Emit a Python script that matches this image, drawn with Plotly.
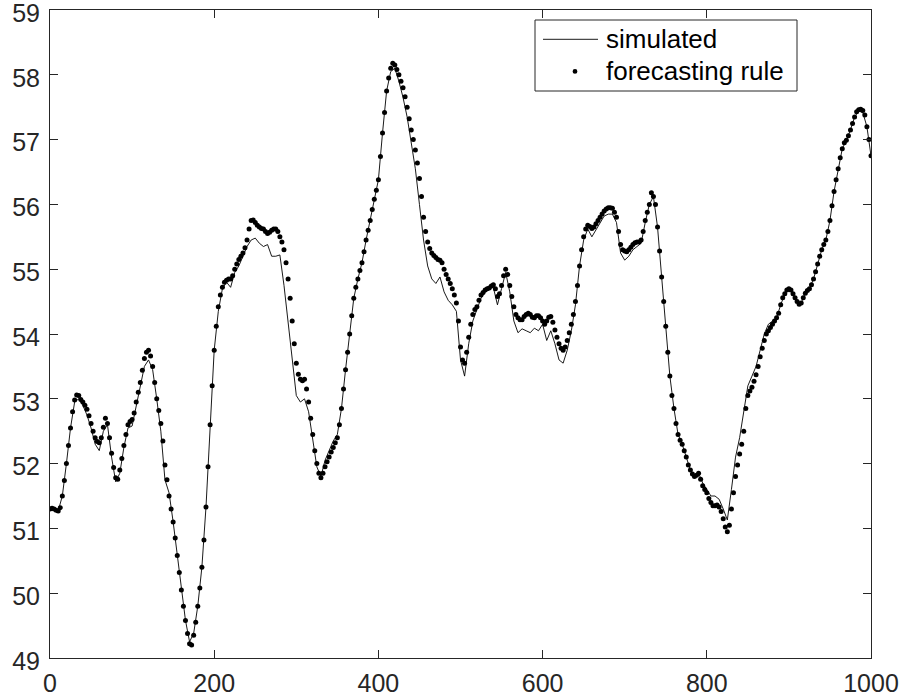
import plotly.graph_objects as go

# ---------------- data ----------------
# simulated series, sampled every 5 periods
sim_t = list(range(0, 1001, 5))
simulated = [
    51.30, 51.30, 51.27, 51.50, 52.00, 52.55, 52.95, 53.00, 52.90, 52.75,  # 0-45
    52.55, 52.30, 52.20, 52.50, 52.60, 52.10, 51.72, 51.85, 52.25, 52.55,  # 50-95
    52.58, 52.90, 53.20, 53.50, 53.60, 53.45, 53.00, 52.50, 51.75, 51.55,  # 100-145
    51.10, 50.58, 50.05, 49.58, 49.25, 49.38, 49.80, 50.40, 51.33, 52.60,  # 150-195
    53.75, 54.35, 54.70, 54.80, 54.72, 54.95, 55.05, 55.20, 55.35, 55.45,  # 200-245
    55.48, 55.40, 55.35, 55.38, 55.20, 55.20, 55.22, 54.75, 54.20, 53.70,  # 250-295
    53.05, 52.95, 53.00, 52.80, 52.35, 51.95, 51.80, 52.05, 52.20, 52.35,  # 300-345
    52.45, 52.85, 53.45, 54.00, 54.55, 54.85, 55.10, 55.45, 55.75, 56.08,  # 350-395
    56.38, 57.10, 57.75, 58.05, 58.10, 57.90, 57.65, 57.35, 56.95, 56.55,  # 400-445
    56.00, 55.45, 55.05, 54.85, 54.78, 54.88, 54.65, 54.52, 54.45, 54.35,  # 450-495
    53.60, 53.35, 53.85, 54.20, 54.38, 54.55, 54.65, 54.70, 54.72, 54.45,  # 500-545
    54.70, 54.95, 54.65, 54.20, 54.02, 54.08, 54.05, 54.02, 54.09, 54.05,  # 550-595
    54.15, 53.90, 54.05, 53.85, 53.60, 53.55, 53.75, 54.05, 54.45, 55.05,  # 600-645
    55.45, 55.62, 55.50, 55.60, 55.72, 55.82, 55.85, 55.85, 55.72, 55.25,  # 650-695
    55.14, 55.20, 55.30, 55.35, 55.40, 55.72, 56.00, 56.12, 55.65, 54.88,  # 700-745
    54.12, 53.35, 52.85, 52.45, 52.30, 52.10, 51.90, 51.82, 51.85, 51.70,  # 750-795
    51.60, 51.50, 51.50, 51.45, 51.30, 51.13, 51.60, 52.10, 52.40, 52.80,  # 800-845
    53.20, 53.35, 53.50, 53.75, 54.00, 54.15, 54.20, 54.25, 54.45, 54.62,  # 850-895
    54.70, 54.62, 54.50, 54.48, 54.63, 54.70, 54.85, 55.08, 55.30, 55.45,  # 900-945
    55.75, 56.20, 56.55, 56.86, 56.99, 57.15, 57.35, 57.44, 57.42, 57.20,  # 950-995
    56.75,                                                                 # 1000
]

# forecasting-rule series, sampled every 2.5 periods
forecast = [
    51.30, 51.31, 51.30, 51.28, 51.27, 51.32, 51.50, 51.74, 52.00, 52.28,  # 0-22.5
    52.55, 52.80, 52.98, 53.06, 53.05, 52.99, 52.95, 52.90, 52.84, 52.74,  # 25-47.5
    52.62, 52.50, 52.40, 52.34, 52.32, 52.40, 52.56, 52.70, 52.62, 52.40,  # 50-72.5
    52.16, 51.94, 51.78, 51.76, 51.90, 52.08, 52.28, 52.45, 52.60, 52.65,  # 75-97.5
    52.68, 52.78, 52.95, 53.10, 53.25, 53.44, 53.62, 53.72, 53.75, 53.66,  # 100-122.5
    53.50, 53.25, 53.00, 52.82, 52.62, 52.35, 51.98, 51.75, 51.50, 51.30,  # 125-147.5
    51.10, 50.85, 50.58, 50.32, 50.05, 49.80, 49.58, 49.38, 49.22, 49.20,  # 150-172.5
    49.35, 49.55, 49.80, 50.08, 50.40, 50.82, 51.33, 51.95, 52.60, 53.20,  # 175-197.5
    53.75, 54.12, 54.42, 54.60, 54.72, 54.80, 54.83, 54.85, 54.85, 54.90,  # 200-222.5
    55.00, 55.08, 55.15, 55.20, 55.25, 55.33, 55.45, 55.62, 55.75, 55.76,  # 225-247.5
    55.72, 55.68, 55.65, 55.63, 55.62, 55.58, 55.55, 55.57, 55.60, 55.62,  # 250-272.5
    55.62, 55.58, 55.50, 55.42, 55.30, 55.10, 54.85, 54.55, 54.20, 53.85,  # 275-297.5
    53.55, 53.38, 53.30, 53.28, 53.30, 53.15, 52.95, 52.70, 52.45, 52.20,  # 300-322.5
    52.00, 51.85, 51.78, 51.85, 51.95, 52.03, 52.10, 52.18, 52.25, 52.32,  # 325-347.5
    52.40, 52.60, 52.85, 53.15, 53.45, 53.72, 54.00, 54.28, 54.55, 54.72,  # 350-372.5
    54.85, 54.98, 55.10, 55.27, 55.45, 55.60, 55.75, 55.92, 56.08, 56.22,  # 375-397.5
    56.38, 56.74, 57.10, 57.42, 57.75, 57.95, 58.10, 58.18, 58.15, 58.08,  # 400-422.5
    58.00, 57.90, 57.80, 57.66, 57.50, 57.32, 57.15, 57.00, 56.84, 56.64,  # 425-447.5
    56.40, 56.12, 55.80, 55.58, 55.42, 55.32, 55.25, 55.21, 55.18, 55.15,  # 450-472.5
    55.14, 55.10, 55.00, 54.92, 54.85, 54.78, 54.70, 54.60, 54.48, 54.20,  # 475-497.5
    53.80, 53.60, 53.55, 53.72, 53.95, 54.15, 54.30, 54.38, 54.42, 54.52,  # 500-522.5
    54.60, 54.64, 54.68, 54.70, 54.71, 54.74, 54.76, 54.70, 54.58, 54.62,  # 525-547.5
    54.75, 54.90, 55.00, 54.92, 54.75, 54.58, 54.42, 54.30, 54.25, 54.22,  # 550-572.5
    54.22, 54.27, 54.30, 54.32, 54.30, 54.26, 54.25, 54.28, 54.28, 54.25,  # 575-597.5
    54.20, 54.15, 54.20, 54.26, 54.27, 54.18, 54.06, 53.95, 53.85, 53.78,  # 600-622.5
    53.75, 53.80, 53.90, 54.02, 54.15, 54.30, 54.50, 54.75, 55.05, 55.30,  # 625-647.5
    55.50, 55.62, 55.68, 55.66, 55.63, 55.65, 55.70, 55.75, 55.80, 55.85,  # 650-672.5
    55.90, 55.93, 55.95, 55.95, 55.94, 55.88, 55.80, 55.58, 55.38, 55.30,  # 675-697.5
    55.28, 55.27, 55.30, 55.34, 55.38, 55.41, 55.42, 55.42, 55.45, 55.58,  # 700-722.5
    55.75, 55.88, 56.00, 56.18, 56.12, 56.00, 55.65, 55.28, 54.88, 54.50,  # 725-747.5
    54.12, 53.72, 53.35, 53.05, 52.85, 52.62, 52.45, 52.36, 52.30, 52.20,  # 750-772.5
    52.10, 51.98, 51.90, 51.84, 51.80, 51.82, 51.85, 51.76, 51.66, 51.60,  # 775-797.5
    51.55, 51.46, 51.40, 51.35, 51.35, 51.36, 51.33, 51.26, 51.15, 51.02,  # 800-822.5
    50.95, 51.05, 51.30, 51.55, 51.80, 51.98, 52.15, 52.30, 52.50, 52.85,  # 825-847.5
    53.05, 53.12, 53.18, 53.27, 53.37, 53.50, 53.65, 53.78, 53.90, 54.00,  # 850-872.5
    54.05, 54.10, 54.15, 54.20, 54.25, 54.32, 54.45, 54.56, 54.62, 54.68,  # 875-897.5
    54.70, 54.68, 54.62, 54.56, 54.50, 54.46, 54.48, 54.56, 54.63, 54.67,  # 900-922.5
    54.70, 54.76, 54.85, 54.96, 55.08, 55.20, 55.30, 55.38, 55.45, 55.58,  # 925-947.5
    55.75, 55.98, 56.20, 56.38, 56.55, 56.72, 56.86, 56.95, 56.99, 57.06,  # 950-972.5
    57.15, 57.25, 57.35, 57.43, 57.46, 57.47, 57.45, 57.38, 57.20, 57.00,  # 975-997.5
    56.75,                                                                 # 1000
]
fc_t = [i * 2.5 for i in range(len(forecast))]

x_ticks = [0, 200, 400, 600, 800, 1000]
y_ticks = [49, 50, 51, 52, 53, 54, 55, 56, 57, 58, 59]
legend_labels = ["simulated", "forecasting rule"]

assert len(simulated) == len(sim_t)

# ---------------- styling ----------------
W, H = 902, 699
ML, MR, MT, MB = 50, 31, 10, 41
PW, PH = W - ML - MR, H - MT - MB
AX = "#262626"
FONT = "Liberation Sans, Arial, Helvetica, sans-serif"


def px(xp):
    return (xp - ML) / PW


def py(yp):
    return (H - MB - yp) / PH


fig = go.Figure()
fig.add_trace(go.Scatter(
    x=sim_t, y=simulated, mode="lines", name=legend_labels[0],
    line=dict(color="black", width=0.9), showlegend=False,
))
fig.add_trace(go.Scatter(
    x=fc_t, y=forecast, mode="markers", name=legend_labels[1],
    marker=dict(color="black", size=5, line=dict(width=0)), showlegend=False,
))

axis_common = dict(
    showline=True, linecolor=AX, linewidth=1, mirror="allticks",
    ticks="inside", ticklen=8, tickwidth=1, tickcolor=AX,
    showgrid=False, zeroline=False, automargin=False,
    ticklabeloverflow="allow",
    tickfont=dict(family=FONT, size=25, color=AX),
)
fig.update_xaxes(range=[0, 1000], tickvals=x_ticks, ticklabelstandoff=3, **axis_common)
fig.update_yaxes(range=[49, 59], tickvals=y_ticks, ticklabelstandoff=4,
                 ticklabelshift=3, **axis_common)

# ---------------- legend box (drawn in paper coordinates) ----------------
row1, row2 = 39.3, 71.4
shapes = [
    dict(type="rect", xref="paper", yref="paper",
         x0=px(535), x1=px(797), y0=py(91), y1=py(20),
         line=dict(color=AX, width=1), fillcolor="white", layer="above"),
    dict(type="line", xref="paper", yref="paper",
         x0=px(543), x1=px(598), y0=py(row1), y1=py(row1),
         line=dict(color="black", width=0.9), layer="above"),
    dict(type="circle", xref="paper", yref="paper",
         x0=px(575 - 2.4), x1=px(575 + 2.4), y0=py(row2 + 2.4), y1=py(row2 - 2.4),
         line=dict(width=0), fillcolor="black", layer="above"),
]
annotations = [
    dict(xref="paper", yref="paper", x=px(604), y=py(row1), text=legend_labels[0],
         showarrow=False, xanchor="left", yanchor="middle",
         font=dict(family=FONT, size=26, color="black")),
    dict(xref="paper", yref="paper", x=px(604), y=py(row2), text=legend_labels[1],
         showarrow=False, xanchor="left", yanchor="middle",
         font=dict(family=FONT, size=26, color="black")),
]

fig.update_layout(
    width=W, height=H,
    margin=dict(l=ML, r=MR, t=MT, b=MB),
    plot_bgcolor="white", paper_bgcolor="white",
    showlegend=False,
    shapes=shapes, annotations=annotations,
)

fig.write_html("out.html")
